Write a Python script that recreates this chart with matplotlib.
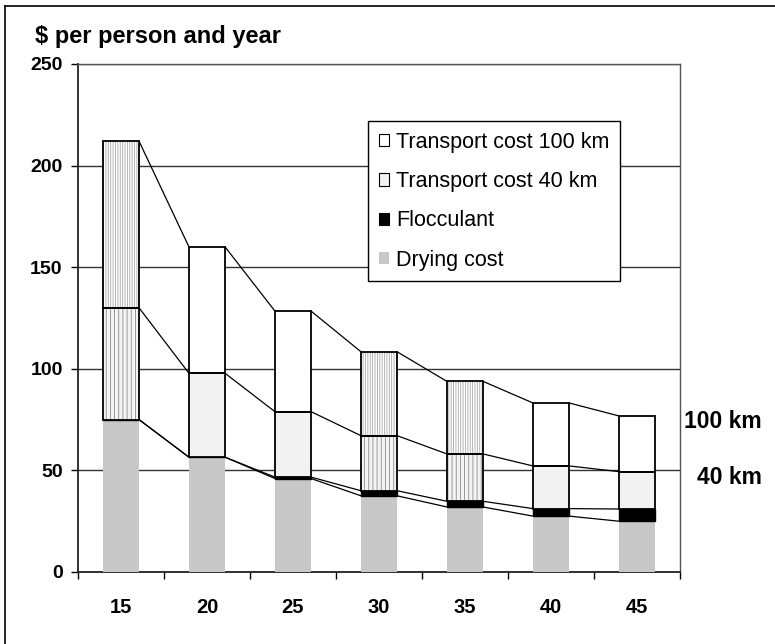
import matplotlib
matplotlib.use("Agg")
import matplotlib.pyplot as plt
from matplotlib.patches import Patch
from matplotlib.lines import Line2D
import numpy as np

plt.rcParams["font.family"] = ["Liberation Sans", "DejaVu Sans"]
plt.rcParams["hatch.linewidth"] = 0.6

categories = ["15", "20", "25", "30", "35", "40", "45"]
drying = [75, 56.5, 46, 37.5, 32, 27.5, 25]
flocculant = [0, 0, 0.7, 2.5, 2.8, 3.7, 6]
transport_40 = [55, 41.3, 32.2, 27.1, 23.3, 21, 18.4]
transport_100 = [82, 62.2, 49.5, 41.3, 35.7, 31, 27.4]
hatched = [True, False, False, True, True, False, False]

x = np.arange(len(categories))
w = 0.42

fig = plt.figure(figsize=(7.75, 6.44), dpi=100)
ax = fig.add_axes([78 / 775, 1 - 572 / 644, 602 / 775, 508 / 644])

drying = np.array(drying)
flocculant = np.array(flocculant)
transport_40 = np.array(transport_40)
transport_100 = np.array(transport_100)

b1 = drying + flocculant
b2 = b1 + transport_40
b3 = b2 + transport_100

ax.bar(x, drying, w, color="#c8c8c8", linewidth=0, zorder=3)
ax.bar(x, flocculant, w, bottom=drying, color="black", edgecolor="black",
       linewidth=1.0, zorder=3)

for i in range(len(x)):
    if hatched[i]:
        # vertical stripes for the hatched stacks, outline drawn on top
        ax.bar(x[i], transport_40[i], w, bottom=b1[i], color="#f4f4f4",
               edgecolor="#8a8a8a", hatch="||||", linewidth=0, zorder=3)
        ax.bar(x[i], transport_100[i], w, bottom=b2[i], color="white",
               edgecolor="#a8a8a8", hatch="|||||||", linewidth=0, zorder=3)
    else:
        ax.bar(x[i], transport_40[i], w, bottom=b1[i], color="#f2f2f2",
               linewidth=0, zorder=3)
        ax.bar(x[i], transport_100[i], w, bottom=b2[i], color="white",
               linewidth=0, zorder=3)
    ax.bar(x[i], transport_40[i], w, bottom=b1[i], fill=False,
           edgecolor="black", linewidth=1.3, zorder=4)
    ax.bar(x[i], transport_100[i], w, bottom=b2[i], fill=False,
           edgecolor="black", linewidth=1.3, zorder=4)

# series lines between neighbouring stacks
for level in [drying, b1, b2, b3]:
    for i in range(len(x) - 1):
        ax.plot([x[i] + w / 2, x[i + 1] - w / 2], [level[i], level[i + 1]],
                color="black", linewidth=0.9, zorder=2)

ax.set_xlim(-0.5, len(x) - 0.5)
ax.set_ylim(0, 250)
ax.set_yticks([0, 50, 100, 150, 200, 250])
ax.yaxis.grid(True, color="#333333", linewidth=1.0, zorder=0)
ax.set_axisbelow(True)

ax.set_xticks(np.arange(-0.5, len(x), 1.0))
ax.set_xticklabels([])
ax.set_xticks(x, minor=True)
ax.set_xticklabels(categories, minor=True, fontsize=14.5, fontweight="bold")
ax.tick_params(axis="x", which="major", length=5, width=1, direction="out")
ax.tick_params(axis="x", which="minor", length=0, pad=19)
ax.tick_params(axis="y", length=5, width=1, direction="out", pad=6,
               labelsize=14)
for lab in ax.get_yticklabels():
    lab.set_fontweight("bold")

for side in ["left", "bottom"]:
    ax.spines[side].set_color("#222222")
    ax.spines[side].set_linewidth(1.3)
for side in ["top", "right"]:
    ax.spines[side].set_color("#555555")
    ax.spines[side].set_linewidth(1.0)

fig.text(35 / 775, 1 - 37 / 644, "$ per person and year", fontsize=17,
         fontweight="bold", va="center", ha="left")

fig.text(762 / 775, 1 - 421 / 644, "100 km", fontsize=16.5,
         fontweight="bold", va="center", ha="right")
fig.text(762 / 775, 1 - 478 / 644, "40 km", fontsize=16.5,
         fontweight="bold", va="center", ha="right")

handles = [
    Patch(facecolor="white", edgecolor="black", linewidth=0.8),
    Patch(facecolor="#f2f2f2", edgecolor="black", linewidth=0.8),
    Patch(facecolor="black", edgecolor="black", linewidth=0.8),
    Patch(facecolor="#c8c8c8", edgecolor="none"),
]
labels = ["Transport cost 100 km", "Transport cost 40 km", "Flocculant",
          "Drying cost"]
leg = fig.legend(handles, labels, loc="upper right",
                 bbox_to_anchor=(620 / 775, 1 - 121 / 644), fontsize=15.5,
                 frameon=True, fancybox=False, framealpha=1, edgecolor="black",
                 handlelength=0.5, handleheight=0.5, handletextpad=0.3,
                 labelspacing=0.85, borderpad=0.5, borderaxespad=0)
leg.get_frame().set_linewidth(1.0)

# outer frame of the figure
fig.add_artist(Line2D([5 / 775, 5 / 775], [0, 1 - 6 / 644], color="black",
                      linewidth=1.2, transform=fig.transFigure))
fig.add_artist(Line2D([5 / 775, 1], [1 - 6 / 644, 1 - 6 / 644], color="black",
                      linewidth=1.2, transform=fig.transFigure))

fig.savefig("out.png", dpi=100)
